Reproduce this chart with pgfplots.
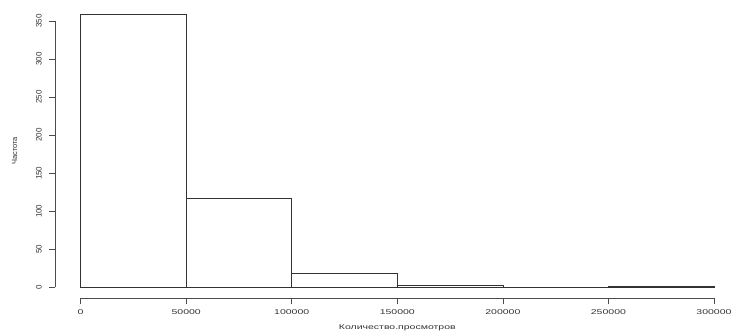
\documentclass[border=0pt]{standalone}
\usepackage{fontspec}
\setmainfont{Liberation Sans}
\newfontfamily\widefont[FakeStretch=1.5]{Liberation Sans}
\usepackage{pgfplots}
\pgfplotsset{compat=1.18}
\begin{document}
\begin{tikzpicture}[x=1bp,y=1bp]
\useasboundingbox (0,0) rectangle (755,332);
\begin{axis}[
  at={(55.3bp,33.7bp)}, anchor=south west,
  scale only axis, width=684bp, height=295bp,
  xmin=-12000, xmax=312000, ymin=-14.4, ymax=373.4,
  axis lines*=left,
  axis line style={draw=none},
  tick align=outside,
  major tick length=6bp,
  tick style={black!70, line width=0.6bp},
  xtick={0,50000,100000,150000,200000,250000,300000},
  ytick={0,50,...,350},
  scaled x ticks=false,
  xticklabel style={font=\widefont\fontsize{7bp}{8bp}\selectfont, text=black!80},
  xticklabel={\pgfmathprintnumber[fixed,1000 sep={}]{\tick}},
  yticklabel style={font=\fontsize{8bp}{9bp}\selectfont, rotate=90, anchor=south, text=black!80},
  yticklabel shift=4bp,
  xticklabel shift=2bp,
  /pgf/number format/assume math mode=true,
  xlabel={\widefont\fontsize{7bp}{8bp}\selectfont Количество.просмотров},
  ylabel={\fontsize{7.5bp}{8bp}\selectfont Частота},
  xlabel style={text=black!80, yshift=-3bp},
  ylabel style={text=black!80, yshift=12bp},
  clip=false,
]
\addplot[ybar interval, draw=black!80, fill=none, line width=0.6bp]
  coordinates {(0,359) (50000,117) (100000,18) (150000,3) (200000,0) (250000,1) (300000,1)};
\draw[black!70, line width=0.6bp] (axis cs:0,-14.4) -- (axis cs:300000,-14.4);
\draw[black!70, line width=0.6bp] (axis cs:-12000,0) -- (axis cs:-12000,350);
\end{axis}
\end{tikzpicture}
\end{document}
